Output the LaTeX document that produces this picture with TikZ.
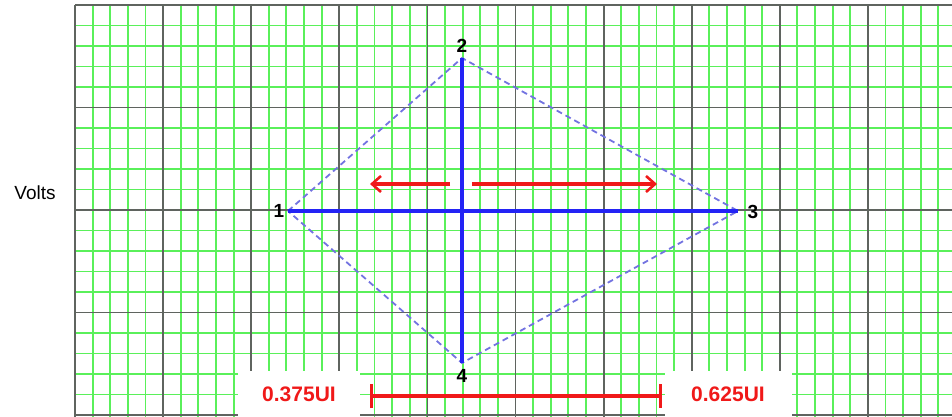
\documentclass[tikz,border=0pt]{standalone}
\usepackage{fontspec}
\setmainfont{Liberation Sans}
\usetikzlibrary{arrows.meta}
\definecolor{eyegreen}{RGB}{90,240,90}
\definecolor{eyegrid}{RGB}{95,100,95}
\definecolor{eyeblue}{RGB}{35,35,245}
\definecolor{eyedash}{RGB}{115,115,225}
\definecolor{eyered}{RGB}{240,25,25}
\tikzset{
  eyeminor/.style={eyegreen,line width=0.95pt},
  eyemajor/.style={eyegrid,line width=0.9pt},
  eyetrace/.style={eyeblue,line width=1.8pt},
  eyeedge/.style={eyedash,line width=0.9pt,dash pattern=on 3pt off 2pt},
  eyeshift/.style={-{Straight Barb[length=4.5pt,width=8pt,line width=1.3pt]},eyered,line width=1.7pt},
  eyespan/.style={{Bar[width=12pt]}-{Bar[width=12pt]},eyered,line width=1.7pt},
  eyept/.style={font=\bfseries\fontsize{9.5}{11}\selectfont,inner sep=1pt},
  eyetag/.style={fill=white,text=eyered,font=\bfseries\fontsize{10.5}{12}\selectfont,
                 minimum height=23pt,inner sep=0pt},
  eyeaxis/.style={font=\fontsize{9.5}{11}\selectfont,inner sep=1pt}
}
\begin{document}
\begin{tikzpicture}[x=0.5pt,y=-0.5pt]
  \useasboundingbox (0,0) rectangle (952,417);

  % graph paper
  \begin{scope}
    \clip (74,4) rectangle (952,417);
    \foreach \i in {0,...,50}
      \draw[eyeminor] ({75+17.62*\i},5) -- ({75+17.62*\i},417);
    \foreach \j in {0,...,20}
      \draw[eyeminor] (75,{5+20.5*\j}) -- (952,{5+20.5*\j});
    \foreach \i in {0,...,10}
      \draw[eyemajor] ({75+88.1*\i},5) -- ({75+88.1*\i},417);
    \foreach \j in {0,...,4}
      \draw[eyemajor] (75,{5+102.5*\j}) -- (952,{5+102.5*\j});
  \end{scope}

  \node[eyeaxis] (volts) at (35,193) {Volts};

  % eye corners
  \coordinate (v1) at (288,211);
  \coordinate (v2) at (462,58);
  \coordinate (v3) at (738,211);
  \coordinate (v4) at (462,363);

  \draw[eyeedge] (v1) -- (v2) -- (v3) -- (v4) -- cycle;
  \draw[eyetrace] (v1) -- (v3);
  \draw[eyetrace] (v2) -- (v4);

  \node[eyept] (n1) at (279,211) {1};
  \node[eyept] (n2) at (462,46) {2};
  \node[eyept] (n3) at (753,212) {3};
  \node[eyept] (n4) at (462,376) {4};

  % shift arrows
  \coordinate (ls) at (450,184);
  \coordinate (le) at (370,184);
  \coordinate (rs) at (472,184);
  \coordinate (re) at (657,184);
  \draw[eyeshift] (ls) -- (le);
  \draw[eyeshift] (rs) -- (re);

  % unit interval span
  \node[eyetag,minimum width=61pt] (tagl) at (299,394) {0.375UI};
  \node[eyetag,minimum width=63.5pt] (tagr) at (728,394) {0.625UI};
  \coordinate (sa) at (370,396);
  \coordinate (sb) at (662,396);
  \draw[eyespan] (sa) -- (sb);
\end{tikzpicture}
\end{document}
